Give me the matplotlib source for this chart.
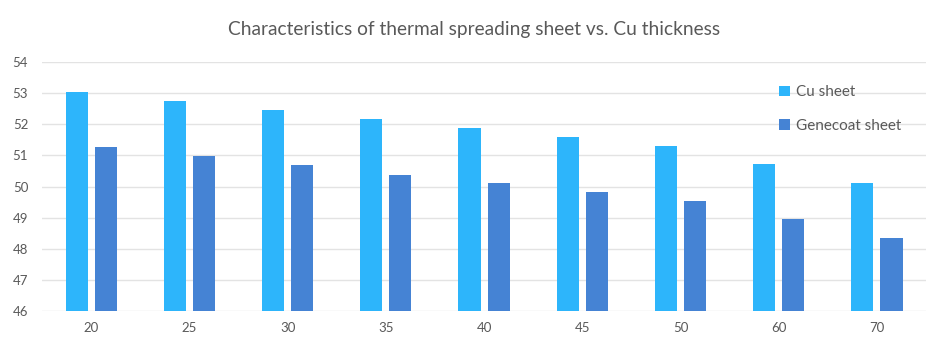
import numpy as np
import matplotlib
matplotlib.use('Agg')
import matplotlib.pyplot as plt

plt.rcParams['font.family'] = ['Lato', 'DejaVu Sans']

# Data
thickness = ['20', '25', '30', '35', '40', '45', '50', '60', '70']
cu_sheet = [53.04, 52.75, 52.46, 52.17, 51.88, 51.60, 51.30, 50.72, 50.13]
genecoat_sheet = [51.27, 50.98, 50.69, 50.38, 50.10, 49.82, 49.53, 48.95, 48.36]

cu_color = '#2DB5FB'
gen_color = '#4583D4'
text_color = '#595959'
grid_color = '#E3E3E3'

fig = plt.figure(figsize=(9.49, 3.61), dpi=100)
ax = fig.add_axes([0.0443, 0.1385, 0.9315, 0.6895])

x = np.arange(len(thickness))
w = 0.225
ax.bar(x - 0.148, cu_sheet, w, color=cu_color, label='Cu sheet', zorder=3)
ax.bar(x + 0.148, genecoat_sheet, w, color=gen_color, label='Genecoat sheet', zorder=3)

ax.set_xlim(-0.5, len(thickness) - 0.5)
ax.set_ylim(46, 54)
ax.set_yticks(range(46, 55))
ax.set_xticks(x)
ax.set_xticklabels(thickness)
ax.tick_params(length=0, colors=text_color, labelsize=9.5)
ax.tick_params(axis='y', pad=10)
ax.tick_params(axis='x', pad=8)
ax.grid(axis='y', color=grid_color, linewidth=1, zorder=0)
for s in ax.spines.values():
    s.set_visible(False)

fig.text(0.5, 1 - 30 / 361, 'Characteristics of thermal spreading sheet vs. Cu thickness',
         fontsize=13.8, color=text_color, ha='center', va='center')

leg = ax.legend(loc='upper left', bbox_to_anchor=(0.818, 0.962), frameon=False,
                fontsize=11, handlelength=0.7, handleheight=0.7,
                handletextpad=0.4, labelspacing=1.3)
for t in leg.get_texts():
    t.set_color(text_color)

fig.savefig('out.png', dpi=100)
